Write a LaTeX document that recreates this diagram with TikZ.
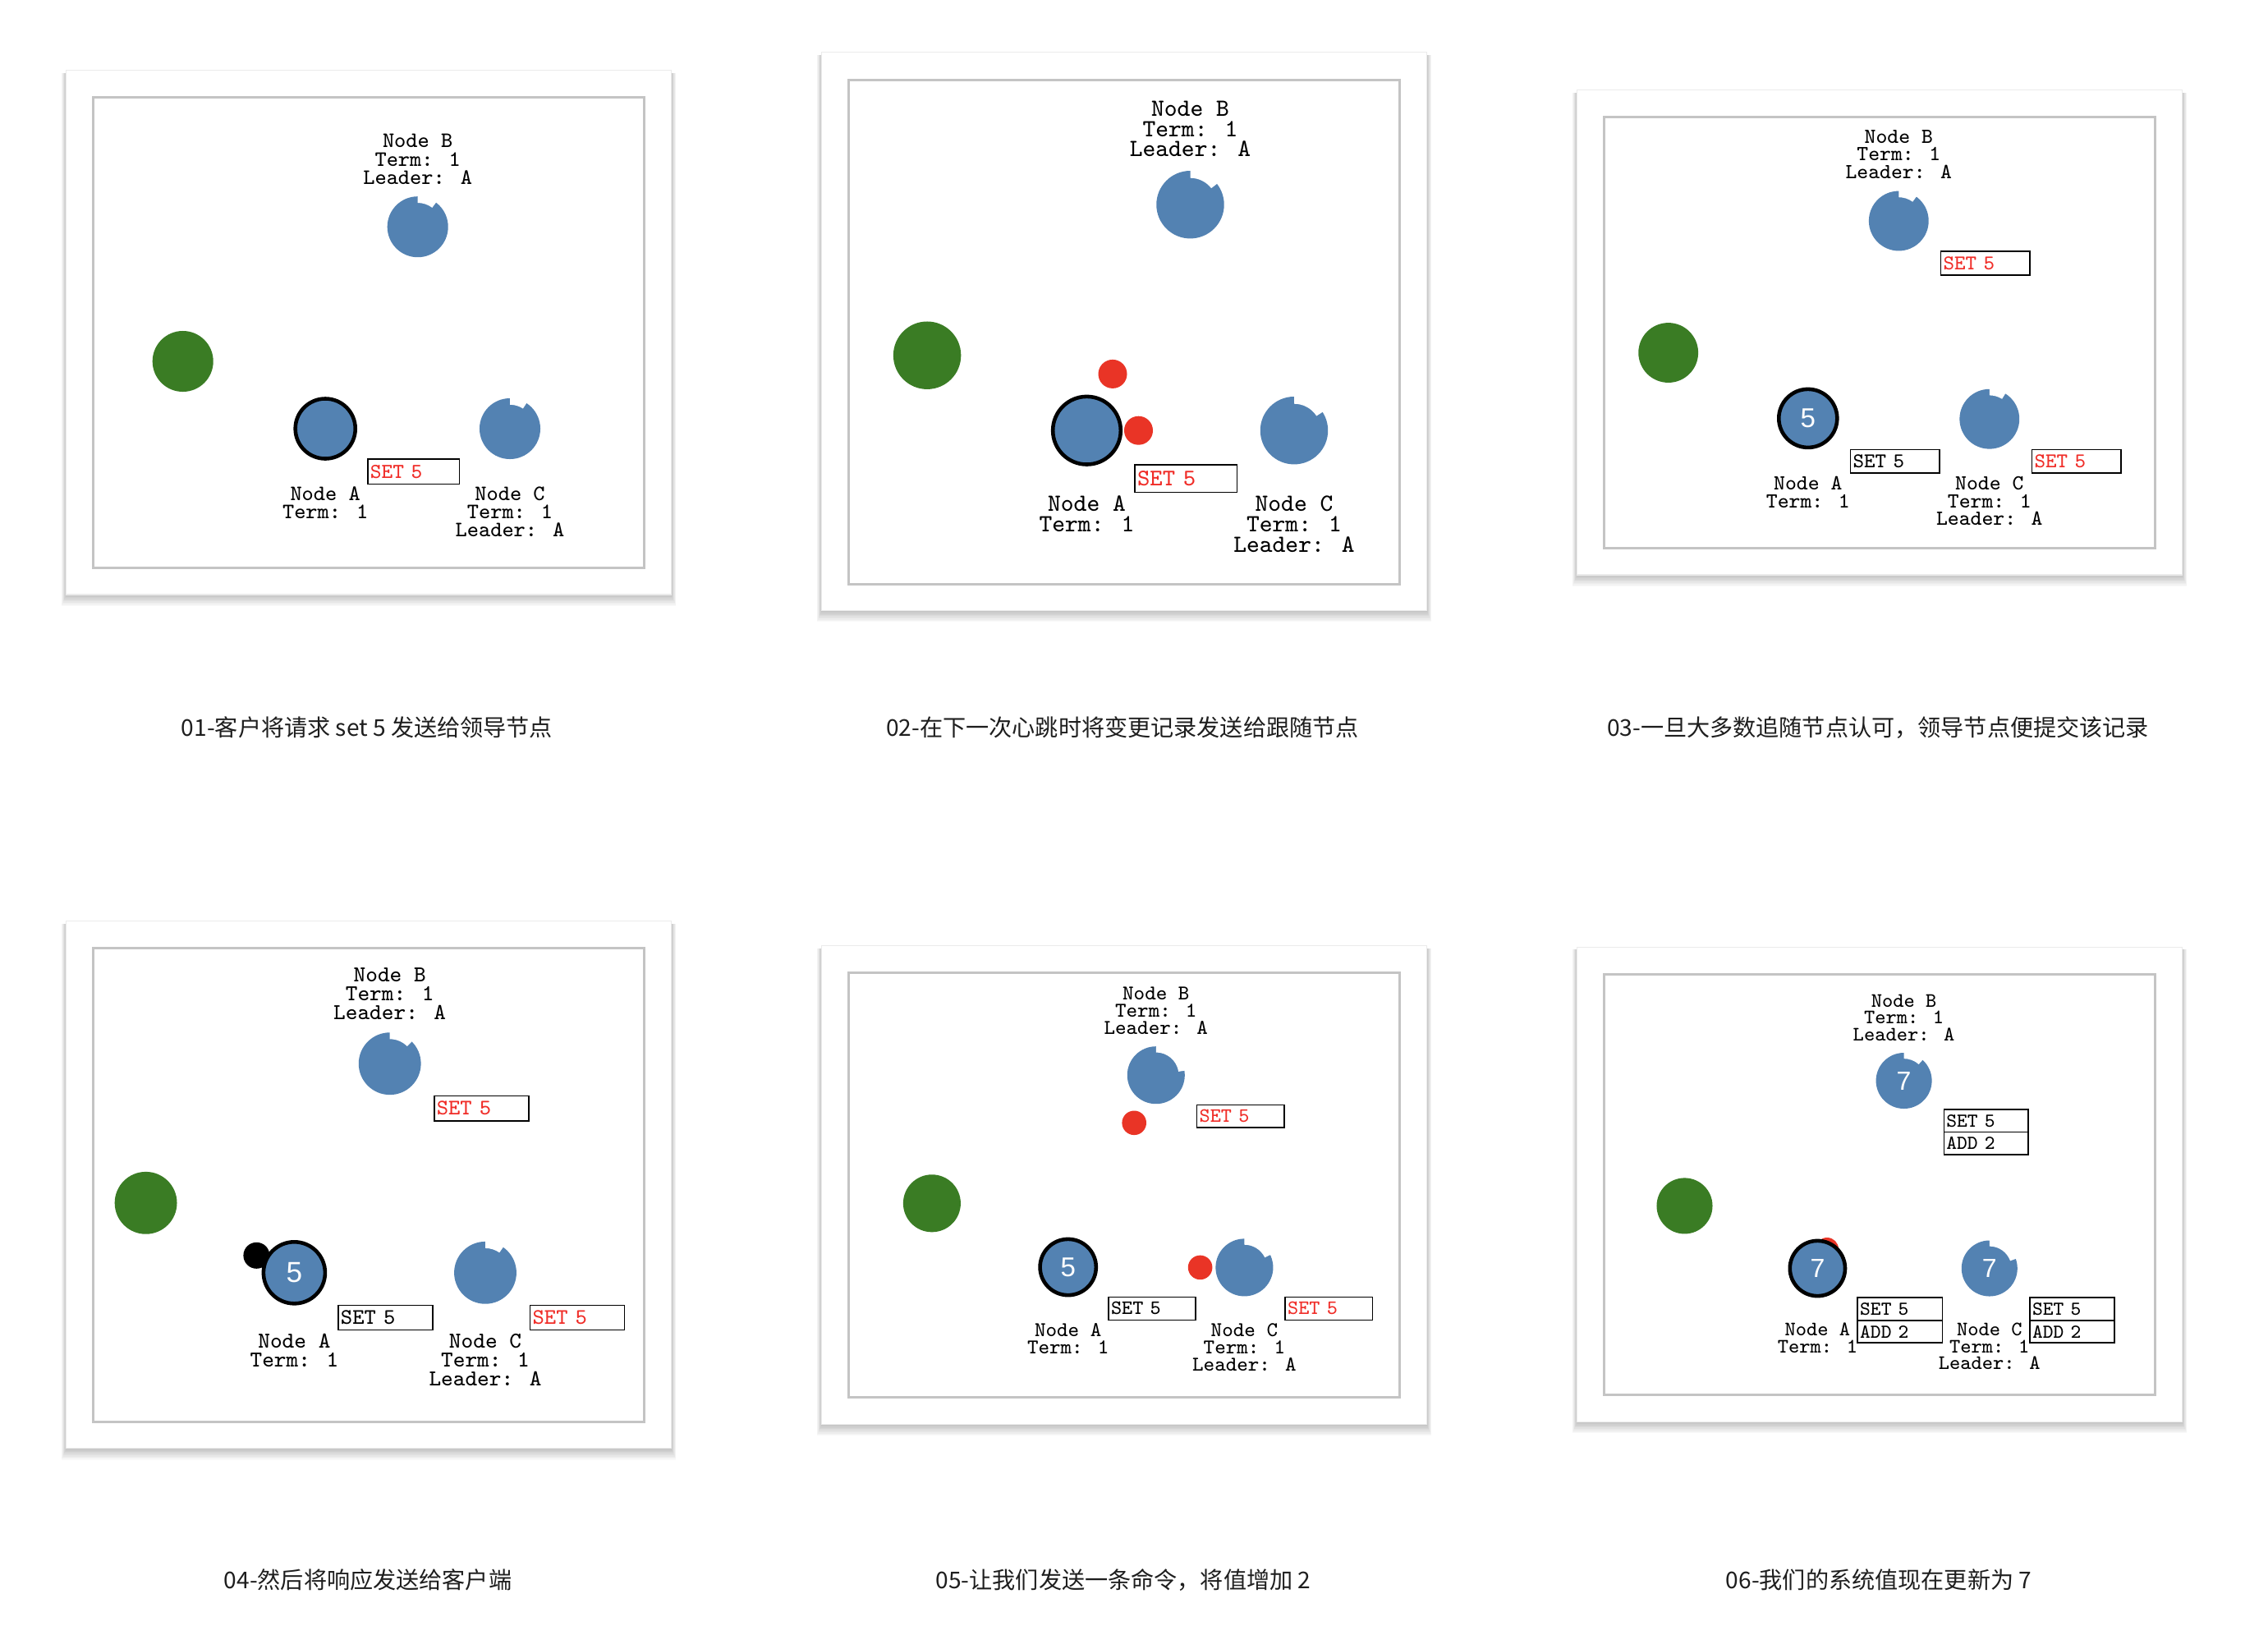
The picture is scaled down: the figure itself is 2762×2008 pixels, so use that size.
\documentclass[tikz,border=0pt]{standalone}
\usepackage{fontspec}
\newfontfamily\numsans{Liberation Sans}
\newfontfamily\cjk{Noto Sans CJK SC}
\definecolor{nblue}{RGB}{83,130,178}
\definecolor{ngreen}{RGB}{58,124,36}
\definecolor{nred}{RGB}{233,52,38}
\definecolor{tred}{RGB}{240,45,40}
\definecolor{bordergray}{RGB}{196,196,196}
\definecolor{captext}{RGB}{30,30,30}
\newcommand\pf[2]{\ttfamily\fontsize{#1}{#2}\selectfont}
\newcommand\nf[1]{\numsans\fontsize{#1}{#1}\selectfont}
\newcommand\panelbg[8]{%
  \foreach \k in {1,...,10}{\fill[black, fill opacity=0.022] (#1-0.6*\k, #2+3) rectangle (#3+0.6*\k, #4+1.4*\k);}
  \fill[white] (#1,#2) rectangle (#3,#4);
  \draw[black!8, line width=0.3pt] (#1,#2) rectangle (#3,#4);
  \draw[bordergray, line width=0.85pt] (#5,#6) rectangle (#7,#8);}
\newcommand\notchcut[5]{%
  \fill[white] ([shift={(#1,#2)}]90:#3cm) arc[start angle=90, end angle=#5, radius=#3cm]
    -- ([shift={(#1,#2)}]#5:#4cm) arc[start angle=#5, end angle=90, radius=#4cm] -- cycle;}
\tikzset{
  fol/.style={circle, fill=nblue, inner sep=0pt, text=white},
  ldr/.style={fol, draw=black, line width=1.3pt},
  cli/.style={circle, fill=ngreen, inner sep=0pt},
  msg/.style={circle, fill=nred, inner sep=0pt},
  blk/.style={circle, fill=black, inner sep=0pt},
  lbl/.style={align=center, inner sep=0pt, text=black},
  entry/.style={draw=black, line width=0.45pt, anchor=north west, inner xsep=0.03cm, inner ysep=0pt, align=left},
  captxt/.style={font=\cjk\fontsize{8pt}{10pt}\selectfont, text=captext, inner sep=0pt}
}
\begin{document}
\begin{tikzpicture}[x=0.01cm, y=-0.01cm]
\useasboundingbox[fill=white] (0,0) rectangle (2762,2008);

% ---------- Panel 1 ----------
\panelbg{80.7}{85.5}{817.4}{724}{113.6}{118.4}{784.4}{691.2}
\node[lbl, font=\pf{7.62pt}{6.34pt}] (l1b) at (508.7,194.1) {Node B\\Term: 1\\Leader: A};
\node[fol, minimum size=0.74cm] (n1b) at (508.7,276.2) {};
\notchcut{508.7}{276.2}{0.38}{0.292}{53}
\node[cli, minimum size=0.74cm] (c1) at (222.7,440) {};
\node[ldr, minimum size=0.73cm] (n1a) at (396.2,522) {};
\node[fol, minimum size=0.74cm] (n1c) at (621,522) {};
\notchcut{621}{522}{0.38}{0.292}{57}
\node[entry, text=tred, text width=1.056cm, minimum height=0.303cm, font=\pf{7.37pt}{7.37pt}] (e1a) at (447,558.2) {SET 5};
\node[lbl, font=\pf{7.62pt}{6.34pt}] (l1a) at (396.2,612.2) {Node A\\Term: 1};
\node[lbl, font=\pf{7.62pt}{6.34pt}] (l1c) at (621,623.3) {Node C\\Term: 1\\Leader: A};

% ---------- Panel 2 ----------
\panelbg{1000.7}{63.9}{1737.4}{743.4}{1033.6}{97.9}{1704.4}{711.2}
\node[lbl, font=\pf{8.56pt}{7.06pt}] (l2b) at (1449.5,157) {Node B\\Term: 1\\Leader: A};
\node[fol, minimum size=0.824cm] (n2b) at (1449.5,249.2) {};
\notchcut{1449.5}{249.2}{0.422}{0.325}{38}
\node[cli, minimum size=0.824cm] (c2) at (1129.1,432.7) {};
\node[msg, minimum size=0.35cm] (m2a) at (1355,455.4) {};
\node[ldr, minimum size=0.826cm] (n2a) at (1323.5,524.2) {};
\node[msg, minimum size=0.35cm] (m2b) at (1386.5,524.2) {};
\node[fol, minimum size=0.824cm] (n2c) at (1576,524.2) {};
\notchcut{1576}{524.2}{0.422}{0.325}{33}
\node[entry, text=tred, text width=1.185cm, minimum height=0.335cm, font=\pf{8.24pt}{8.24pt}] (e2a) at (1381.2,565.2) {SET 5};
\node[lbl, font=\pf{8.56pt}{7.06pt}] (l2a) at (1323.5,625.5) {Node A\\Term: 1};
\node[lbl, font=\pf{8.56pt}{7.06pt}] (l2c) at (1576,638) {Node C\\Term: 1\\Leader: A};

% ---------- Panel 3 ----------
\panelbg{1920.7}{109.6}{2657.4}{700}{1953.6}{142.4}{2624.4}{667.1}
\node[lbl, font=\pf{7.43pt}{6.17pt}] (l3b) at (2312.3,188) {Node B\\Term: 1\\Leader: A};
\node[fol, minimum size=0.728cm] (n3b) at (2312.3,269) {};
\notchcut{2312.3}{269}{0.374}{0.288}{54}
\node[entry, text=tred, text width=1.026cm, minimum height=0.288cm, font=\pf{7.25pt}{7.25pt}] (e3b) at (2362.7,305.4) {SET 5};
\node[cli, minimum size=0.728cm] (c3) at (2031.7,429.5) {};
\node[ldr, minimum size=0.71cm, font=\nf{9.4pt}] (n3a) at (2201.8,509.4) {5};
\node[fol, minimum size=0.728cm] (n3c) at (2422.8,510.2) {};
\notchcut{2422.8}{510.2}{0.374}{0.288}{58}
\node[entry, text=black, text width=1.026cm, minimum height=0.285cm, font=\pf{7.25pt}{7.25pt}] (e3a) at (2252.7,546.5) {SET 5};
\node[entry, text=tred, text width=1.026cm, minimum height=0.285cm, font=\pf{7.25pt}{7.25pt}] (e3c) at (2473.7,546.5) {SET 5};
\node[lbl, font=\pf{7.43pt}{6.17pt}] (l3a) at (2201.8,599.2) {Node A\\Term: 1};
\node[lbl, font=\pf{7.43pt}{6.17pt}] (l3c) at (2422.8,610) {Node C\\Term: 1\\Leader: A};

% ---------- Panel 4 ----------
\panelbg{80.7}{1121.8}{817.4}{1763.7}{113.6}{1154.6}{784.4}{1731.3}
\node[lbl, font=\pf{7.86pt}{6.51pt}] (l4b) at (474.7,1210) {Node B\\Term: 1\\Leader: A};
\node[fol, minimum size=0.758cm] (n4b) at (474.7,1295.2) {};
\notchcut{474.7}{1295.2}{0.389}{0.299}{45}
\node[entry, text=tred, text width=1.089cm, minimum height=0.307cm, font=\pf{7.68pt}{7.68pt}] (e4b) at (528,1333.5) {SET 5};
\node[cli, minimum size=0.758cm] (c4) at (177.6,1464.8) {};
\node[blk, minimum size=0.32cm] (r4) at (312.4,1528.8) {};
\node[ldr, minimum size=0.75cm, font=\nf{10pt}] (n4a) at (358.4,1549.8) {5};
\node[fol, minimum size=0.758cm] (n4c) at (591,1549.8) {};
\notchcut{591}{1549.8}{0.389}{0.299}{55}
\node[entry, text=black, text width=1.089cm, minimum height=0.299cm, font=\pf{7.68pt}{7.68pt}] (e4a) at (411.2,1588.6) {SET 5};
\node[entry, text=tred, text width=1.089cm, minimum height=0.299cm, font=\pf{7.68pt}{7.68pt}] (e4c) at (644.8,1588.6) {SET 5};
\node[lbl, font=\pf{7.86pt}{6.51pt}] (l4a) at (358.4,1644.2) {Node A\\Term: 1};
\node[lbl, font=\pf{7.86pt}{6.51pt}] (l4c) at (591,1655.7) {Node C\\Term: 1\\Leader: A};

% ---------- Panel 5 ----------
\panelbg{1000.7}{1151.5}{1737.4}{1734.3}{1033.6}{1184.8}{1704.4}{1701.4}
\node[lbl, font=\pf{7.26pt}{5.97pt}] (l5b) at (1407.8,1230.7) {Node B\\Term: 1\\Leader: A};
\node[fol, minimum size=0.70cm] (n5b) at (1407.8,1309.2) {};
\notchcut{1407.8}{1309.2}{0.36}{0.277}{9}
\node[msg, minimum size=0.296cm] (m5b) at (1381.2,1367.3) {};
\node[entry, text=tred, text width=1.001cm, minimum height=0.276cm, font=\pf{7.04pt}{7.04pt}] (e5b) at (1456.8,1344.7) {SET 5};
\node[cli, minimum size=0.70cm] (c5) at (1134.9,1465.3) {};
\node[ldr, minimum size=0.682cm, font=\nf{9.4pt}] (n5a) at (1300.7,1543) {5};
\node[msg, minimum size=0.296cm] (m5c) at (1461.6,1543.4) {};
\node[fol, minimum size=0.70cm] (n5c) at (1515.4,1543.4) {};
\notchcut{1515.4}{1543.4}{0.36}{0.277}{26}
\node[entry, text=black, text width=1.001cm, minimum height=0.279cm, font=\pf{7.04pt}{7.04pt}] (e5a) at (1349.2,1578.6) {SET 5};
\node[entry, text=tred, text width=1.001cm, minimum height=0.279cm, font=\pf{7.04pt}{7.04pt}] (e5c) at (1564.4,1578.6) {SET 5};
\node[lbl, font=\pf{7.26pt}{5.97pt}] (l5a) at (1300.7,1629.7) {Node A\\Term: 1};
\node[lbl, font=\pf{7.26pt}{5.97pt}] (l5c) at (1515.4,1640.2) {Node C\\Term: 1\\Leader: A};

% ---------- Panel 6 ----------
\panelbg{1920.7}{1153.4}{2657.4}{1731.3}{1953.6}{1186.7}{2624.4}{1698}
\node[lbl, font=\pf{7.1pt}{5.89pt}] (l6b) at (2318.6,1239.2) {Node B\\Term: 1\\Leader: A};
\node[fol, minimum size=0.68cm, font=\nf{9.1pt}] (n6b) at (2318.6,1316) {7};
\notchcut{2318.6}{1316}{0.35}{0.269}{48}
\node[entry, text=black, text width=0.967cm, minimum height=0.276cm, font=\pf{6.85pt}{6.85pt}] (e6b1) at (2366.6,1350.1) {SET 5};
\node[entry, text=black, text width=0.967cm, minimum height=0.276cm, font=\pf{6.85pt}{6.85pt}] (e6b2) at (2366.6,1377.7) {ADD 2};
\node[cli, minimum size=0.68cm] (c6) at (2051.5,1468.4) {};
\node[msg, minimum size=0.28cm] (m6a) at (2225,1521) {};
\node[ldr, minimum size=0.672cm, font=\nf{9.1pt}] (n6a) at (2213.4,1544.5) {7};
\node[fol, minimum size=0.68cm, font=\nf{9.1pt}] (n6c) at (2422.8,1544.5) {7};
\notchcut{2422.8}{1544.5}{0.35}{0.269}{20}
\node[entry, text=black, text width=0.972cm, minimum height=0.275cm, font=\pf{6.85pt}{6.85pt}] (e6a1) at (2261.4,1579.4) {SET 5};
\node[entry, text=black, text width=0.972cm, minimum height=0.275cm, font=\pf{6.85pt}{6.85pt}] (e6a2) at (2261.4,1606.9) {ADD 2};
\node[entry, text=black, text width=0.967cm, minimum height=0.275cm, font=\pf{6.85pt}{6.85pt}] (e6c1) at (2471.3,1579.4) {SET 5};
\node[entry, text=black, text width=0.967cm, minimum height=0.275cm, font=\pf{6.85pt}{6.85pt}] (e6c2) at (2471.3,1606.9) {ADD 2};
\node[lbl, font=\pf{7.1pt}{5.89pt}] (l6a) at (2213.4,1629.1) {Node A\\Term: 1};
\node[lbl, font=\pf{7.1pt}{5.89pt}] (l6c) at (2422.8,1639.5) {Node C\\Term: 1\\Leader: A};

% ---------- Captions ----------
\node[captxt] (cap1) at (447,886) {01-客户将请求 set 5 发送给领导节点};
\node[captxt] (cap2) at (1367,886) {02-在下一次心跳时将变更记录发送给跟随节点};
\node[captxt] (cap3) at (2287,886) {03-一旦大多数追随节点认可，领导节点便提交该记录};
\node[captxt] (cap4) at (448,1923.6) {04-然后将响应发送给客户端};
\node[captxt] (cap5) at (1368,1923.6) {05-让我们发送一条命令，将值增加 2};
\node[captxt] (cap6) at (2288,1923.6) {06-我们的系统值现在更新为 7};
\end{tikzpicture}
\end{document}
